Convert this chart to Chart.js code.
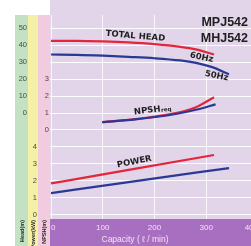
<!DOCTYPE html>
<html>
<head>
<meta charset="utf-8">
<script src="https://cdn.jsdelivr.net/npm/chart.js@4"></script>
<style>
  html, body { margin: 0; padding: 0; background: #fff; overflow: hidden; }
</style>
</head>
<body>
<canvas id="chart" width="258" height="246"></canvas>
<script>
// capacity in l/min, head in m, NPSH in m, power in kW
const flow60 = [0, 50, 100, 150, 200, 250, 280, 315];
const head60 = [42.5, 42.5, 42.2, 41.6, 40.6, 39.0, 37.5, 34.5];
const flow50 = [0, 50, 100, 150, 200, 250, 280, 310, 344];
const head50 = [34.5, 34.3, 33.8, 33.1, 32.3, 31.0, 29.6, 27.2, 22.9];

const npshFlow60 = [99, 163, 241, 280, 315];
const npsh60 = [0.47, 0.65, 1.0, 1.35, 1.94];
const npshFlow50 = [99, 163, 241, 280, 318];
const npsh50 = [0.47, 0.63, 0.95, 1.2, 1.52];

const powerFlow60 = [0, 150, 315];
const power60 = [1.85, 2.65, 3.53];
const powerFlow50 = [0, 150, 344];
const power50 = [1.28, 1.93, 2.76];

const headTicks = [0, 10, 20, 30, 40, 50];
const powerTicks = [0, 1, 2, 3, 4];
const npshTicks = [0, 1, 2, 3];
const flowTicks = [0, 100, 200, 300, 400];

const RED = "#e3263c";
const BLUE = "#2b3995";

function pts(xs, ys) {
  return xs.map((x, i) => ({ x: x, y: ys[i] }));
}

function line(data, color, axis) {
  return {
    data: data,
    borderColor: color,
    borderWidth: 2.2,
    pointRadius: 0,
    cubicInterpolationMode: "monotone",
    yAxisID: axis,
  };
}

// curve labels, placed in data units
const notes = [
  { text: "TOTAL HEAD", x: 163, y: 45.3, axis: "head", rot: 0.085 },
  { text: "60Hz", x: 291, y: 32.7, axis: "head", rot: 0.2 },
  { text: "50Hz", x: 320, y: 21.8, axis: "head", rot: 0.2 },
  { text: "NPSH", sub: "req", x: 200, y: 1.2, axis: "npsh", rot: -0.12 },
  { text: "POWER", x: 161, y: 3.12, axis: "power", rot: -0.2 },
];

const backdrop = {
  id: "backdrop",
  beforeDraw(chart) {
    const ctx = chart.ctx;
    const a = chart.chartArea;
    const s = chart.scales;
    ctx.save();
    ctx.fillStyle = "#ffffff";
    ctx.fillRect(0, 0, chart.width, chart.height);
    ctx.fillStyle = "#e2d5e9";
    ctx.fillRect(a.left, 0, chart.width - a.left, a.bottom);
    ctx.fillStyle = "#c3e2c4";
    ctx.fillRect(s.head.left, a.top, s.head.width, chart.height - a.top);
    ctx.fillStyle = "#f4f1a6";
    ctx.fillRect(s.power.left, a.top, s.power.width, chart.height - a.top);
    ctx.fillStyle = "#f3cbde";
    ctx.fillRect(s.npsh.left, a.top, s.npsh.width, chart.height - a.top);
    ctx.fillStyle = "#a86fc0";
    ctx.fillRect(a.left, a.bottom, chart.width - a.left, chart.height - a.bottom);
    ctx.restore();
  },
  afterDatasetsDraw(chart) {
    const ctx = chart.ctx;
    const a = chart.chartArea;
    const s = chart.scales;
    ctx.save();
    ctx.fillStyle = "#1e1e1e";
    ctx.textBaseline = "middle";
    notes.forEach(n => {
      const px = s.x.getPixelForValue(n.x);
      const py = s[n.axis].getPixelForValue(n.y);
      ctx.save();
      ctx.translate(px, py);
      ctx.rotate(n.rot);
      ctx.font = "bold 8.5px 'DejaVu Sans'";
      ctx.textAlign = n.sub ? "right" : "center";
      ctx.fillText(n.text, n.sub ? 6 : 0, 0);
      if (n.sub) {
        ctx.font = "bold 5.5px 'DejaVu Sans'";
        ctx.textAlign = "left";
        ctx.fillText(n.sub, 6.5, 1.5);
      }
      ctx.restore();
    });

    // model names, right edge of the visible window
    ctx.font = "bold 12.5px 'Liberation Sans'";
    ctx.textAlign = "right";
    ctx.fillText("MPJ542", 248, 23);
    ctx.fillText("MHJ542", 248, 38.5);

    ctx.fillStyle = "#f1e4f6";
    ctx.font = "8.5px 'Liberation Sans'";
    ctx.textAlign = "center";
    ctx.fillText("Capacity ( \u2113 / min)", a.left + 85, 240);

    ctx.fillStyle = "#2a2a2a";
    ctx.font = "bold 5.5px 'Liberation Sans'";
    [["head", "Head(m)"], ["power", "Power(kW)"], ["npsh", "NPSH(m)"]].forEach(([id, t]) => {
      const sc = s[id];
      ctx.save();
      ctx.translate(sc.left + sc.width / 2 + 0.5, a.bottom + 1);
      ctx.rotate(-Math.PI / 2);
      ctx.textAlign = "right";
      ctx.fillText(t, 0, 0);
      ctx.restore();
    });
    ctx.restore();
  },
};

function sideAxis(width, min, max, weight, ticks, grid) {
  return {
    type: "linear",
    position: "left",
    weight: weight,
    min: min,
    max: max,
    border: { display: false },
    grid: grid
      ? { color: "rgba(255,255,255,0.9)", lineWidth: 1, drawTicks: false }
      : { display: false, drawTicks: false },
    ticks: {
      stepSize: ticks[1] - ticks[0],
      maxTicksLimit: 30,
      includeBounds: false,
      padding: 1,
      color: "#4a4a4a",
      font: { family: "Liberation Sans", size: 7.5 },
      callback: v => (ticks.includes(v) ? v : ""),
    },
    afterFit(sc) {
      sc.width = width;
      sc.paddingTop = 0;
      sc.paddingBottom = 0;
    },
  };
}

new Chart(document.getElementById("chart"), {
  type: "line",
  data: {
    datasets: [
      line(pts(flow60, head60), RED, "head"),
      line(pts(flow50, head50), BLUE, "head"),
      line(pts(npshFlow50, npsh50), BLUE, "npsh"),
      line(pts(npshFlow60, npsh60), RED, "npsh"),
      line(pts(powerFlow60, power60), RED, "power"),
      line(pts(powerFlow50, power50), BLUE, "power"),
    ],
  },
  options: {
    responsive: false,
    animation: false,
    layout: { padding: { left: 15, top: 15, right: 0, bottom: 0 } },
    plugins: { legend: { display: false }, tooltip: { enabled: false } },
    scales: {
      x: {
        type: "linear",
        position: "bottom",
        min: -2,
        max: 400,
        border: { display: false },
        grid: { color: "rgba(255,255,255,0.8)", lineWidth: 1, drawTicks: false },
        ticks: {
          maxTicksLimit: 6,
          includeBounds: false,
          align: "inner",
          padding: 4,
          color: "#f1e4f6",
          font: { family: "Liberation Sans", size: 8 },
          callback: v => (flowTicks.includes(v) ? v : ""),
        },
        afterFit(sc) {
          sc.height = 27;
          sc.paddingLeft = 0;
          sc.paddingRight = 0;
        },
      },
      head: sideAxis(13, -62.5, 57.8, 3, headTicks, true),
      power: sideAxis(10, -0.25, 11.8, 2, powerTicks, false),
      npsh: sideAxis(12, -5.25, 6.8, 1, npshTicks, false),
    },
  },
  plugins: [backdrop],
});
</script>
</body>
</html>
